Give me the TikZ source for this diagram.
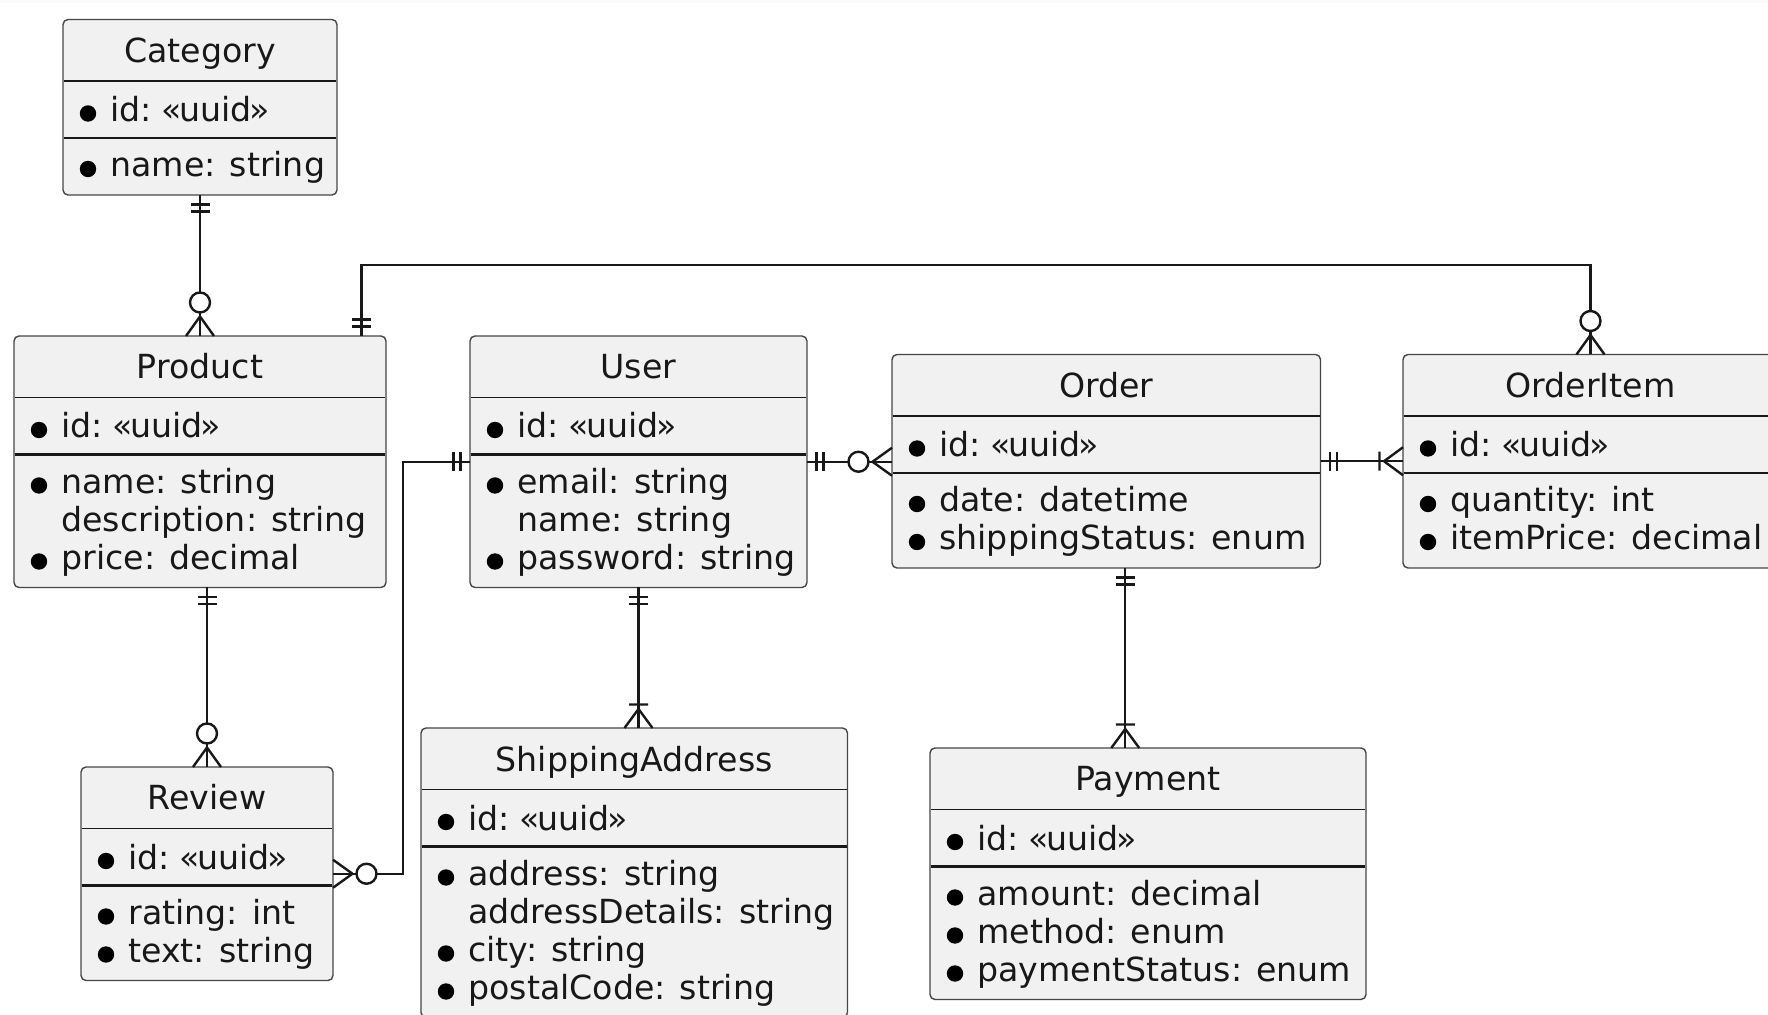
\documentclass[tikz,border=0pt]{standalone}
\usepackage{fontspec}
\setmainfont{DejaVu Sans}
\definecolor{boxfill}{RGB}{241,241,241}
\definecolor{boxline}{RGB}{70,70,70}
\definecolor{ink}{RGB}{24,24,24}
\definecolor{topband}{RGB}{250,250,250}
\tikzset{
  ebox/.style={draw=boxline, line width=0.7pt, fill=boxfill, rounded corners=2.5pt, inner sep=0pt, outer sep=0pt},
  sepa/.style={draw=ink, line width=0.65pt},
  sepb/.style={draw=ink, line width=1.4pt},
  etitle/.style={anchor=base, inner sep=0pt, text=ink, font=\fontsize{16.6pt}{20pt}\selectfont},
  eattr/.style={anchor=base west, inner sep=0pt, text=ink, font=\fontsize{16.6pt}{20pt}\selectfont},
  bul/.style={fill=black},
  conn/.style={draw=ink, line width=1.2pt},
  onlyone/.pic={\draw[conn] (9.5,-9.5) -- (9.5,9.5) (16.5,-9.5) -- (16.5,9.5);},
  zeromany/.pic={\draw[conn] (19.5,0) -- (0,-14) (19.5,0) -- (0,14);
                 \draw[conn,fill=white] (33.5,0) circle[radius=5pt];},
  onemany/.pic={\draw[conn] (19,0) -- (0,-14) (19,0) -- (0,14) (23.5,-9.5) -- (23.5,9.5);},
}
% entity: #1 name, #2 left, #3 right, #4 top, #5 rows, #6 title
\newcommand\erent[6]{%
  \pgfmathsetmacro\erH{175.5+38*(#5-1)}%
  \node[ebox, anchor=north west, minimum width={(#3-#2)*0.5pt}, minimum height={\erH*0.5pt}] (#1) at (#2,#4) {};
  \draw[sepa] (#2+0.7,#4+61.5) -- (#3-0.7,#4+61.5);
  \draw[sepb] (#2+0.7,#4+118.5) -- (#3-0.7,#4+118.5);
  \node[etitle] (#1-t) at ({(#2+#3)/2},#4+43) {#6};
  \fill[bul] (#2+25,#4+94) circle[radius=4.1pt];
  \node[eattr] (#1-id) at (#2+47,#4+102) {id: \kern-2pt«\kern-1.5pt uuid\kern-0.9pt»};
}
% attribute: #1 node name, #2 left, #3 top, #4 row index, #5 bullet, #6 text
\newcommand\eratt[6]{%
  \pgfmathsetmacro\erY{#3+157.5+38*#4}%
  \ifnum#5=1 \fill[bul] (#2+25,\erY-8) circle[radius=4.1pt];\fi
  \node[eattr] (#1) at (#2+47,\erY) {#6};
}
\begin{document}
\begin{tikzpicture}[x=0.5pt, y=-0.5pt]
\useasboundingbox (0,0) rectangle (1768,1015);
\fill[topband] (0,0) rectangle (1768,3);

% Category
\erent{cat}{63}{337}{19.5}{1}{Category}
\eratt{cat-1}{63}{19.5}{0}{1}{name: string}

% Product
\erent{prod}{14}{386}{336}{3}{Product}
\eratt{prod-1}{14}{336}{0}{1}{name: string}
\eratt{prod-2}{14}{336}{1}{0}{description: string}
\eratt{prod-3}{14}{336}{2}{1}{price: decimal}

% User
\erent{user}{470}{807}{336}{3}{User}
\eratt{user-1}{470}{336}{0}{1}{email: string}
\eratt{user-2}{470}{336}{1}{0}{name: string}
\eratt{user-3}{470}{336}{2}{1}{password: string}

% Order
\erent{ord}{892}{1320.5}{354.5}{2}{Order}
\eratt{ord-1}{892}{354.5}{0}{1}{date: datetime}
\eratt{ord-2}{892}{354.5}{1}{1}{shippingStatus: enum}

% OrderItem
\erent{oi}{1403}{1778}{354.5}{2}{OrderItem}
\eratt{oi-1}{1403}{354.5}{0}{1}{quantity: int}
\eratt{oi-2}{1403}{354.5}{1}{1}{itemPrice: decimal}

% Review
\erent{rev}{81}{333}{767}{2}{Review}
\eratt{rev-1}{81}{767}{0}{1}{rating: int}
\eratt{rev-2}{81}{767}{1}{1}{text: string}

% ShippingAddress
\erent{sa}{421}{847.5}{728}{4}{ShippingAddress}
\eratt{sa-1}{421}{728}{0}{1}{address: string}
\eratt{sa-2}{421}{728}{1}{0}{addressDetails: string}
\eratt{sa-3}{421}{728}{2}{1}{city: string}
\eratt{sa-4}{421}{728}{3}{1}{postalCode: string}

% Payment
\erent{pay}{930}{1366}{748}{3}{Payment}
\eratt{pay-1}{930}{748}{0}{1}{amount: decimal}
\eratt{pay-2}{930}{748}{1}{1}{method: enum}
\eratt{pay-3}{930}{748}{2}{1}{paymentStatus: enum}

% helper coordinates
\coordinate (poA) at ([xshift=-12.25pt]prod.north east);
\coordinate (prB) at (rev.north |- prod.south);
\coordinate (uoB) at (user.east -| ord.west);
\coordinate (usB) at (user.south |- sa.north);
\coordinate (ooB) at (ord.east -| oi.west);
\coordinate (opA) at ([xshift=9.5pt]ord.south);
\coordinate (opB) at (opA |- pay.north);

% connectors
\draw[conn] (cat.south) -- (prod.north);
\draw[conn] (poA) -- ++(0,-71) -| (oi.north);
\draw[conn] (prB) -- (rev.north);
\draw[conn] (user.west) -- ++(-67,0) |- (rev.east);
\draw[conn] (user.east) -- (uoB);
\draw[conn] (user.south) -- (usB);
\draw[conn] (ord.east) -- (ooB);
\draw[conn] (opA) -- (opB);

% end markers
\pic[rotate=-90] at (cat.south) {onlyone};
\pic[rotate=90] at (prod.north) {zeromany};
\pic[rotate=90] at (poA) {onlyone};
\pic[rotate=90] at (oi.north) {zeromany};
\pic[rotate=-90] at (prB) {onlyone};
\pic[rotate=90] at (rev.north) {zeromany};
\pic[rotate=180] at (user.west) {onlyone};
\pic[rotate=0] at (rev.east) {zeromany};
\pic[rotate=0] at (user.east) {onlyone};
\pic[rotate=180] at (uoB) {zeromany};
\pic[rotate=-90] at (user.south) {onlyone};
\pic[rotate=90] at (usB) {onemany};
\pic[rotate=0] at (ord.east) {onlyone};
\pic[rotate=180] at (ooB) {onemany};
\pic[rotate=-90] at (opA) {onlyone};
\pic[rotate=90] at (opB) {onemany};
\end{tikzpicture}
\end{document}
